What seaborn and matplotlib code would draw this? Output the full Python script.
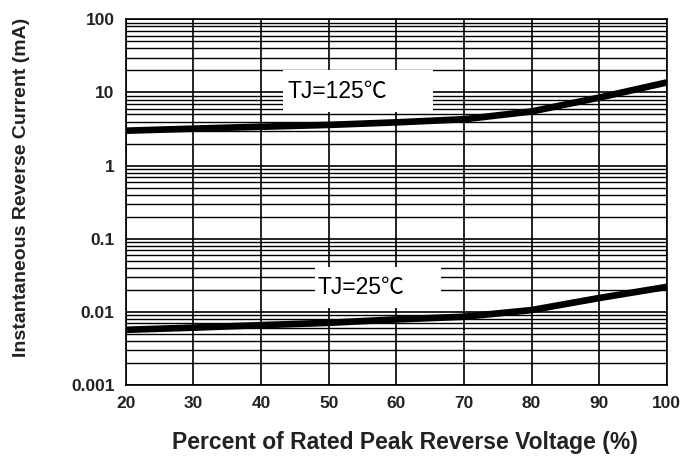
import matplotlib
matplotlib.use("Agg")
import matplotlib.pyplot as plt
import seaborn as sns
import pandas as pd
from matplotlib.patches import Rectangle
from matplotlib.ticker import FixedLocator, FixedFormatter, LogLocator, NullFormatter

sns.set_style("white")
plt.rcParams['font.family'] = ['Liberation Sans', 'DejaVu Sans', 'Noto Sans CJK SC']

# data
voltage_pct = [20, 30, 40, 50, 60, 70, 80, 90, 100]
current_125 = [3.0, 3.2, 3.4, 3.6, 3.9, 4.3, 5.5, 8.5, 13.7]
current_25 = [0.0057, 0.0061, 0.0066, 0.0071, 0.0079, 0.0086, 0.0106, 0.0155, 0.022]
series_labels = ["TJ=125℃", "TJ=25℃"]
x_ticks = [20, 30, 40, 50, 60, 70, 80, 90, 100]
y_ticks = [0.001, 0.01, 0.1, 1, 10, 100]
y_ticklabels = ["0.001", "0.01", "0.1", "1", "10", "100"]

df = pd.concat([
    pd.DataFrame({"x": voltage_pct, "y": current_125, "s": series_labels[0]}),
    pd.DataFrame({"x": voltage_pct, "y": current_25, "s": series_labels[1]}),
])

fig = plt.figure(figsize=(6.99, 4.59), dpi=100)
ax = fig.add_axes([0.180, 0.161, 0.774, 0.797])

sns.lineplot(data=df, x="x", y="y", units="s", estimator=None, color="black",
             linewidth=4.8, ax=ax, zorder=4, legend=False)

ax.set_yscale("log")
ax.set_xlim(20, 100)
ax.set_ylim(0.001, 100)
ax.set_xticks(x_ticks)
ax.yaxis.set_major_locator(FixedLocator(y_ticks))
ax.yaxis.set_major_formatter(FixedFormatter(y_ticklabels))
ax.yaxis.set_minor_locator(LogLocator(base=10, subs=range(2, 10)))
ax.yaxis.set_minor_formatter(NullFormatter())
ax.tick_params(axis="both", which="both", length=0, labelsize=12.5, pad=8)
for lab in ax.get_xticklabels() + ax.get_yticklabels():
    lab.set_fontweight("bold")
    lab.set_color("#222222")

ax.set_axisbelow(True)
ax.grid(True, which="major", axis="both", color="black", linewidth=1.2)
ax.grid(True, which="minor", axis="y", color="black", linewidth=1.0)
for sp in ax.spines.values():
    sp.set_color("black")
    sp.set_linewidth(1.2)

ax.set_xlabel("Percent of Rated Peak Reverse Voltage (%)", fontsize=16.5, fontweight="bold",
              color="#222222")
ax.set_ylabel("Instantaneous Reverse Current (mA)", fontsize=14, fontweight="bold",
              color="#222222")
ax.xaxis.set_label_coords(0.516, -0.125)
ax.yaxis.set_label_coords(-0.178, 0.54)

# label boxes
ax.add_patch(Rectangle((0.290, 0.746), 0.277, 0.115, transform=ax.transAxes,
                       facecolor="white", edgecolor="none", zorder=3))
ax.add_patch(Rectangle((0.349, 0.210), 0.233, 0.112, transform=ax.transAxes,
                       facecolor="white", edgecolor="none", zorder=3))
lab_family = ['Liberation Sans', 'Noto Sans CJK SC', 'DejaVu Sans']
ax.text(0.299, 0.803, series_labels[0], transform=ax.transAxes, fontsize=16.5,
        va="center", ha="left", zorder=5, color="black", family=lab_family)
ax.text(0.355, 0.268, series_labels[1], transform=ax.transAxes, fontsize=16.5,
        va="center", ha="left", zorder=5, color="black", family=lab_family)

fig.savefig("out.png", dpi=100)
